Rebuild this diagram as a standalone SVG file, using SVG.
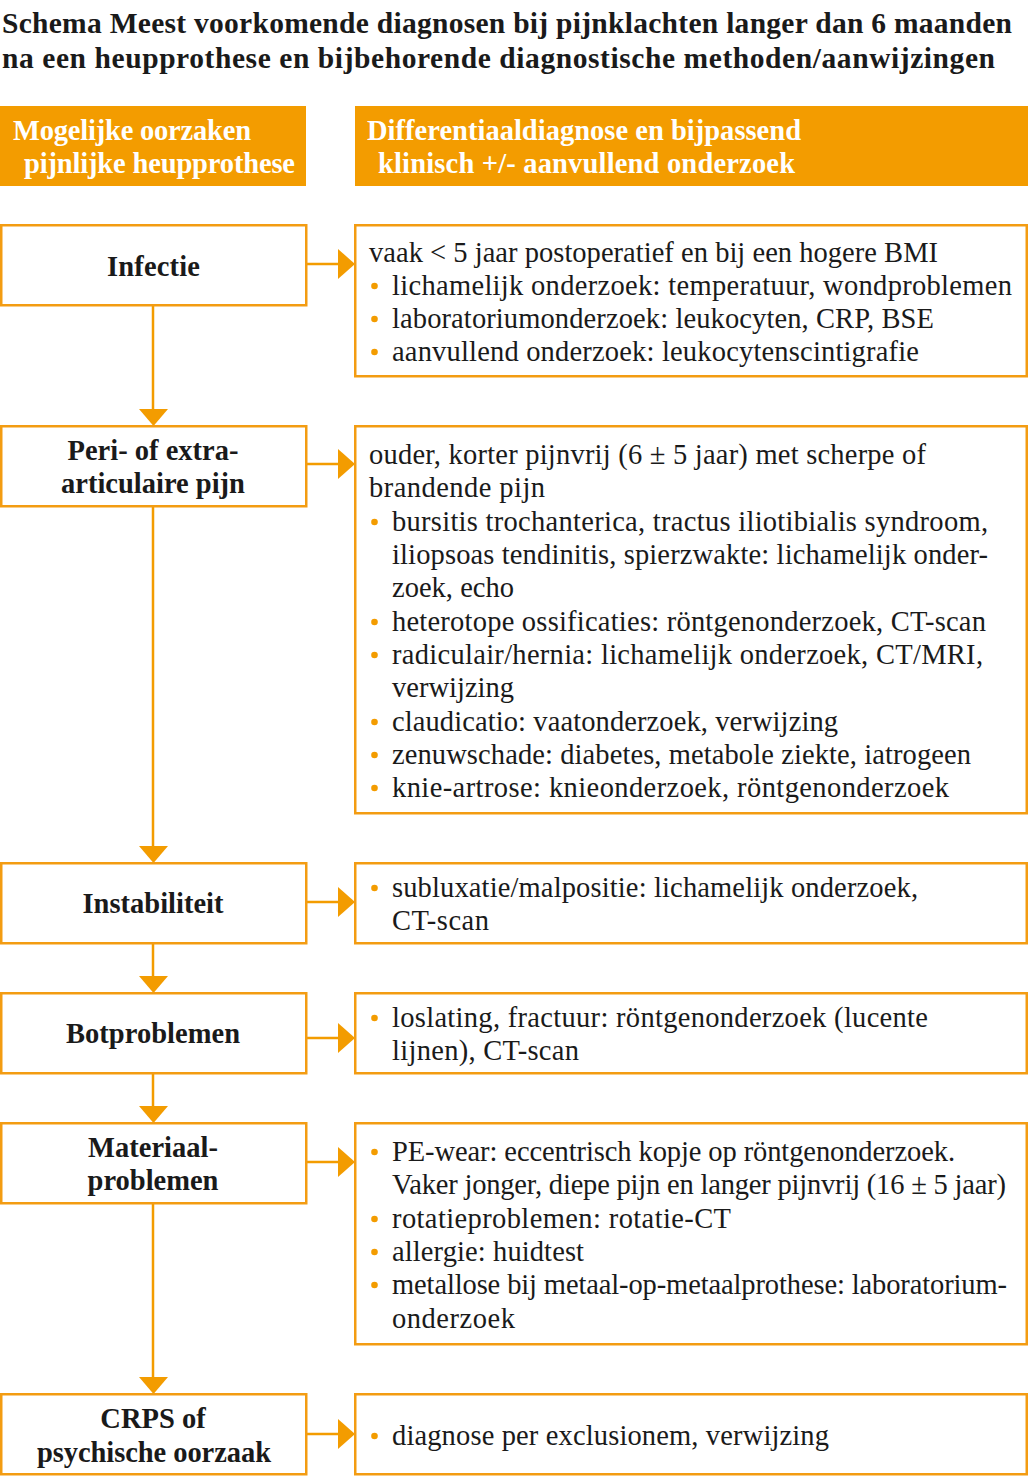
<svg xmlns="http://www.w3.org/2000/svg" width="1028" height="1476" viewBox="0 0 1028 1476">
<defs>
<style>
.t{font-family:"Liberation Serif","DejaVu Serif",serif;font-size:29.5px;font-weight:bold;fill:#1a1a1a}
.h{font-family:"Liberation Serif","DejaVu Serif",serif;font-size:28.5px;font-weight:bold;fill:#ffffff}
.n{font-family:"Liberation Serif","DejaVu Serif",serif;font-size:28.5px;font-weight:bold;fill:#1a1a1a;text-anchor:middle}
.b{font-family:"Liberation Serif","DejaVu Serif",serif;font-size:28.5px;fill:#1a1a1a}
.box{fill:#ffffff;stroke:#F39C12;stroke-width:2.5}
.hdr{fill:#F39C00}
.ln{stroke:#F39C00;stroke-width:2.5;fill:none}
.ah{fill:#F39C00}
.dot{fill:#F39C00}
</style>
</defs>
<rect width="1028" height="1476" fill="#ffffff"/>
<g id="title">
<text class="t" x="2" y="33" textLength="1010" lengthAdjust="spacing">Schema Meest voorkomende diagnosen bij pijnklachten langer dan 6 maanden</text>
<text class="t" x="2" y="68" textLength="993" lengthAdjust="spacing">na een heupprothese en bijbehorende diagnostische methoden/aanwijzingen</text>
</g>
<g id="header-left">
<rect class="hdr" x="0" y="106" width="306" height="80"/>
<text class="h" x="13" y="140" textLength="238" lengthAdjust="spacing">Mogelijke oorzaken</text>
<text class="h" x="24" y="173" textLength="271" lengthAdjust="spacing">pijnlijke heupprothese</text>
</g>
<g id="header-right">
<rect class="hdr" x="355" y="106" width="673" height="80"/>
<text class="h" x="367" y="140" textLength="434" lengthAdjust="spacing">Differentiaaldiagnose en bijpassend</text>
<text class="h" x="378" y="173" textLength="417" lengthAdjust="spacing">klinisch +/- aanvullend onderzoek</text>
</g>
<g id="connectors">
<line class="ln" x1="153" y1="305" x2="153" y2="410"/>
<polygon class="ah" points="139,409 168,409 153.5,426"/>
<line class="ln" x1="153" y1="506" x2="153" y2="847"/>
<polygon class="ah" points="139,846 168,846 153.5,863"/>
<line class="ln" x1="153" y1="943" x2="153" y2="977"/>
<polygon class="ah" points="139,976 168,976 153.5,993"/>
<line class="ln" x1="153" y1="1073" x2="153" y2="1107"/>
<polygon class="ah" points="139,1106 168,1106 153.5,1123"/>
<line class="ln" x1="153" y1="1203" x2="153" y2="1378"/>
<polygon class="ah" points="139,1377 168,1377 153.5,1394"/>
<line class="ln" x1="306" y1="264" x2="340" y2="264"/>
<polygon class="ah" points="338,249 338,279 355,264"/>
<line class="ln" x1="306" y1="464" x2="340" y2="464"/>
<polygon class="ah" points="338,449 338,479 355,464"/>
<line class="ln" x1="306" y1="902" x2="340" y2="902"/>
<polygon class="ah" points="338,887 338,917 355,902"/>
<line class="ln" x1="306" y1="1038" x2="340" y2="1038"/>
<polygon class="ah" points="338,1023 338,1053 355,1038"/>
<line class="ln" x1="306" y1="1162" x2="340" y2="1162"/>
<polygon class="ah" points="338,1147 338,1177 355,1162"/>
<line class="ln" x1="306" y1="1434" x2="340" y2="1434"/>
<polygon class="ah" points="338,1419 338,1449 355,1434"/>
</g>
<g id="node-infectie">
<rect class="box" x="1.25" y="225.25" width="305" height="80"/>
<text class="n" x="153.5" y="276" textLength="93" lengthAdjust="spacing">Infectie</text>
</g>
<g id="node-peri">
<rect class="box" x="1.25" y="426.25" width="305" height="80"/>
<text class="n" x="153" y="460">Peri- of extra-</text>
<text class="n" x="153" y="493">articulaire pijn</text>
</g>
<g id="node-instabiliteit">
<rect class="box" x="1.25" y="863.25" width="305" height="80"/>
<text class="n" x="153" y="913">Instabiliteit</text>
</g>
<g id="node-botproblemen">
<rect class="box" x="1.25" y="993.25" width="305" height="80"/>
<text class="n" x="153" y="1043" textLength="174" lengthAdjust="spacing">Botproblemen</text>
</g>
<g id="node-materiaal">
<rect class="box" x="1.25" y="1123.25" width="305" height="80"/>
<text class="n" x="153" y="1157">Materiaal-</text>
<text class="n" x="153" y="1190">problemen</text>
</g>
<g id="node-crps">
<rect class="box" x="1.25" y="1394.25" width="305" height="80"/>
<text class="n" x="153" y="1428">CRPS of</text>
<text class="n" x="154" y="1462" textLength="234" lengthAdjust="spacing">psychische oorzaak</text>
</g>
<g id="detail-infectie">
<rect class="box" x="355.25" y="225.25" width="671.5" height="151"/>
<text class="b" x="369" y="262" textLength="569" lengthAdjust="spacing">vaak &lt; 5 jaar postoperatief en bij een hogere BMI</text>
<circle class="dot" cx="374.5" cy="286" r="3.3"/>
<text class="b" x="392" y="295" textLength="620" lengthAdjust="spacing">lichamelijk onderzoek: temperatuur, wondproblemen</text>
<circle class="dot" cx="374.5" cy="319" r="3.3"/>
<text class="b" x="392" y="328" textLength="542" lengthAdjust="spacing">laboratoriumonderzoek: leukocyten, CRP, BSE</text>
<circle class="dot" cx="374.5" cy="352" r="3.3"/>
<text class="b" x="392" y="361" textLength="527" lengthAdjust="spacing">aanvullend onderzoek: leukocytenscintigrafie</text>
</g>
<g id="detail-peri">
<rect class="box" x="355.25" y="426.25" width="671.5" height="387"/>
<text class="b" x="369" y="464" textLength="557" lengthAdjust="spacing">ouder, korter pijnvrij (6 ± 5 jaar) met scherpe of</text>
<text class="b" x="369" y="497" textLength="176" lengthAdjust="spacing">brandende pijn</text>
<circle class="dot" cx="374.5" cy="522" r="3.3"/>
<text class="b" x="392" y="531" textLength="596" lengthAdjust="spacing">bursitis trochanterica, tractus iliotibialis syndroom,</text>
<text class="b" x="392" y="564" textLength="596" lengthAdjust="spacing">iliopsoas tendinitis, spierzwakte: lichamelijk onder-</text>
<text class="b" x="392" y="597" textLength="122" lengthAdjust="spacing">zoek, echo</text>
<circle class="dot" cx="374.5" cy="622" r="3.3"/>
<text class="b" x="392" y="631" textLength="594" lengthAdjust="spacing">heterotope ossificaties: röntgenonderzoek, CT-scan</text>
<circle class="dot" cx="374.5" cy="655" r="3.3"/>
<text class="b" x="392" y="664" textLength="591" lengthAdjust="spacing">radiculair/hernia: lichamelijk onderzoek, CT/MRI,</text>
<text class="b" x="392" y="697" textLength="122" lengthAdjust="spacing">verwijzing</text>
<circle class="dot" cx="374.5" cy="722" r="3.3"/>
<text class="b" x="392" y="731" textLength="446" lengthAdjust="spacing">claudicatio: vaatonderzoek, verwijzing</text>
<circle class="dot" cx="374.5" cy="755" r="3.3"/>
<text class="b" x="392" y="764" textLength="579" lengthAdjust="spacing">zenuwschade: diabetes, metabole ziekte, iatrogeen</text>
<circle class="dot" cx="374.5" cy="788" r="3.3"/>
<text class="b" x="392" y="797" textLength="557" lengthAdjust="spacing">knie-artrose: knieonderzoek, röntgenonderzoek</text>
</g>
<g id="detail-instabiliteit">
<rect class="box" x="355.25" y="863.25" width="671.5" height="80"/>
<circle class="dot" cx="374.5" cy="888" r="3.3"/>
<text class="b" x="392" y="897" textLength="526" lengthAdjust="spacing">subluxatie/malpositie: lichamelijk onderzoek,</text>
<text class="b" x="392" y="930" textLength="97" lengthAdjust="spacing">CT-scan</text>
</g>
<g id="detail-botproblemen">
<rect class="box" x="355.25" y="993.25" width="671.5" height="80"/>
<circle class="dot" cx="374.5" cy="1018" r="3.3"/>
<text class="b" x="392" y="1027" textLength="536" lengthAdjust="spacing">loslating, fractuur: röntgenonderzoek (lucente</text>
<text class="b" x="392" y="1060" textLength="187" lengthAdjust="spacing">lijnen), CT-scan</text>
</g>
<g id="detail-materiaal">
<rect class="box" x="355.25" y="1123.25" width="671.5" height="221"/>
<circle class="dot" cx="374.5" cy="1152" r="3.3"/>
<text class="b" x="392" y="1161" textLength="563" lengthAdjust="spacing">PE-wear: eccentrisch kopje op röntgenonderzoek.</text>
<text class="b" x="392" y="1194" textLength="614" lengthAdjust="spacing">Vaker jonger, diepe pijn en langer pijnvrij (16 ± 5 jaar)</text>
<circle class="dot" cx="374.5" cy="1219" r="3.3"/>
<text class="b" x="392" y="1228" textLength="339" lengthAdjust="spacing">rotatieproblemen: rotatie-CT</text>
<circle class="dot" cx="374.5" cy="1252" r="3.3"/>
<text class="b" x="392" y="1261" textLength="192" lengthAdjust="spacing">allergie: huidtest</text>
<circle class="dot" cx="374.5" cy="1285" r="3.3"/>
<text class="b" x="392" y="1294" textLength="615" lengthAdjust="spacing">metallose bij metaal-op-metaalprothese: laboratorium-</text>
<text class="b" x="392" y="1328" textLength="123" lengthAdjust="spacing">onderzoek</text>
</g>
<g id="detail-crps">
<rect class="box" x="355.25" y="1394.25" width="671.5" height="80"/>
<circle class="dot" cx="374.5" cy="1436" r="3.3"/>
<text class="b" x="392" y="1445" textLength="437" lengthAdjust="spacing">diagnose per exclusionem, verwijzing</text>
</g>
</svg>
